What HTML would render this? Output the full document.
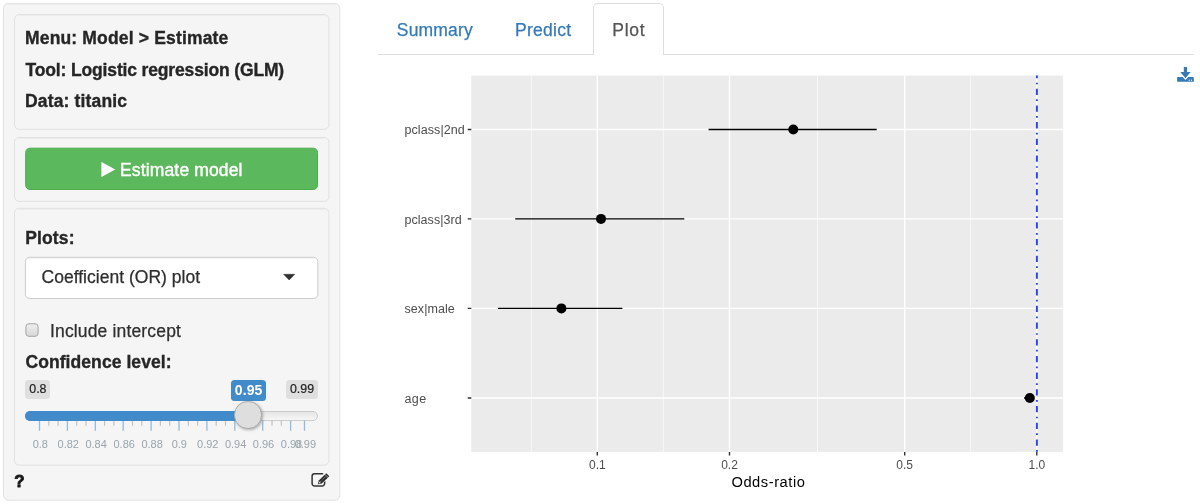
<!DOCTYPE html>
<html><head><meta charset="utf-8">
<style>
*{box-sizing:border-box}
html,body{margin:0;padding:0;background:#fff}
body{width:1200px;height:504px;overflow:hidden;position:relative;font-family:"Liberation Sans",sans-serif;color:#333;font-size:16px}
.abs{position:absolute}
.well{position:absolute;background:#f5f5f5;border:1px solid #e3e3e3;border-radius:5px;box-shadow:inset 0 1px 1px rgba(0,0,0,.05)}
svg{position:absolute;left:0;top:0}
svg text{font-family:"Liberation Sans",sans-serif}
.bold{font-weight:bold;fill:#262626;font-size:17.5px;stroke:#262626;stroke-width:.35px}
.reg{font-size:17.5px;fill:#2e2e2e;stroke:#2e2e2e;stroke-width:.25px}
.gl{font-size:11px;fill:#99a4ac;text-anchor:middle}
.ax{font-size:12px;fill:#4d4d4d}
</style></head><body>
<!-- sidebar wells -->
<svg width="360" height="504" viewBox="0 0 360 504">
<g fill="#f5f5f5" stroke="#e1e1e1" stroke-width="1">
<rect x="3.5" y="3.4" width="336.3" height="496.8" rx="5"/>
<rect x="14.5" y="14.5" width="314.4" height="114.8" rx="4.5"/>
<rect x="14.5" y="137.5" width="314.4" height="63.8" rx="4.5"/>
<rect x="14.5" y="208.3" width="314.4" height="256.8" rx="4.5"/>
</g>
<g stroke="#000" stroke-opacity="0.035" stroke-width="1" fill="none">
<path d="M8 4.6H335.5M19 15.6H324.5M19 138.6H324.5M19 209.4H324.5"/>
</g>
<!-- button -->
<rect x="25.7" y="148.2" width="291.8" height="41.3" rx="4.2" fill="#5cb85c" stroke="#4cae4c" stroke-width="1"/>
<!-- select -->
<rect x="25.4" y="257.3" width="292.4" height="41.2" rx="4.2" fill="#fff" stroke="#cbcbcb" stroke-width="1"/>
<path d="M29 258.4H314" stroke="#000" stroke-opacity="0.05" stroke-width="1"/>
<!-- checkbox -->
<defs><linearGradient id="cbg" x1="0" y1="0" x2="0" y2="1"><stop offset="0" stop-color="#efefef"/><stop offset="1" stop-color="#d8d8d8"/></linearGradient></defs>
<rect x="25.9" y="323.8" width="12.2" height="12.5" rx="3" fill="url(#cbg)" stroke="#a3a3a3" stroke-width="1"/>
</svg>
<!-- slider -->
<div class="abs" style="left:25px;top:380px;width:25px;height:18.7px;background:#dfdfdf;border-radius:3.5px"></div>
<div class="abs" style="left:286.2px;top:380px;width:31.6px;height:18.7px;background:#dfdfdf;border-radius:3.5px"></div>
<div class="abs" style="left:231.2px;top:380px;width:34.6px;height:20.7px;background:#428bca;border-radius:3.5px"></div>
<div class="abs" style="left:25px;top:410.7px;width:292.8px;height:10.1px;border:1px solid #ccc;border-radius:6px;background:linear-gradient(#ddd -50%,#fff 150%)"></div>
<div class="abs" style="left:25px;top:410.7px;width:223px;height:10.1px;border-top:1px solid #428bca;border-bottom:1px solid #428bca;border-radius:6px 0 0 6px;background:#428bca"></div>
<div class="abs" style="left:234.2px;top:401.2px;width:27.5px;height:27.5px;border-radius:50%;background:#dedede;border:1px solid #ababab;box-shadow:1px 1px 3px rgba(0,0,0,.3)"></div>

<!-- tabs -->
<div class="abs" style="left:378px;top:54px;width:816px;height:1px;background:#ddd"></div>
<div class="abs" style="left:593px;top:3px;width:71px;height:52px;background:#fff;border:1px solid #ddd;border-bottom:none;border-radius:5px 5px 0 0"></div>

<svg width="1200" height="504" viewBox="0 0 1200 504">
<!-- sidebar text -->
<text class="bold" x="25" y="44.2" textLength="203.3" lengthAdjust="spacing">Menu: Model &gt; Estimate</text>
<text class="bold" x="25.5" y="75.5" textLength="258.7" lengthAdjust="spacing">Tool: Logistic regression (GLM)</text>
<text class="bold" x="25" y="106.7" textLength="102" lengthAdjust="spacing">Data: titanic</text>
<path d="M101.4 162.1 L115.3 169.6 L101.4 177.1 Z" fill="#fff"/>
<text class="reg" x="120" y="175.9" textLength="122.5" lengthAdjust="spacing" style="fill:#fff;stroke:#fff;stroke-width:.4px">Estimate model</text>
<text class="bold" x="25.2" y="243.8" textLength="49.3" lengthAdjust="spacing">Plots:</text>
<text class="reg" x="41.5" y="283.3" textLength="158.6" lengthAdjust="spacing">Coefficient (OR) plot</text>
<path d="M283.6 274.3 L294.8 274.3 L289.2 280 Z" fill="#303030" stroke="#303030" stroke-width="0.5" stroke-linejoin="round"/>
<text class="reg" x="50" y="336.8" textLength="130.9" lengthAdjust="spacing">Include intercept</text>
<text class="bold" x="25.5" y="367.6" textLength="146" lengthAdjust="spacing">Confidence level:</text>

<!-- slider labels -->
<text x="37.9" y="393" font-size="12.4" fill="#222" stroke="#222" stroke-width=".2" text-anchor="middle">0.8</text>
<text x="302" y="393.1" font-size="12.4" fill="#222" stroke="#222" stroke-width=".2" text-anchor="middle">0.99</text>
<text x="248.6" y="395" font-size="14" font-weight="bold" fill="#fff" text-anchor="middle" textLength="27.5" lengthAdjust="spacing">0.95</text>
<!-- ticks -->
<g id="ticks"></g>
<g stroke="#428bca" stroke-opacity="0.55" stroke-width="1.3">
<path d="M39.5 420.8V430.7M67.4 420.8V430.7M95.3 420.8V430.7M123.2 420.8V430.7M151.1 420.8V430.7M179 420.8V430.7M206.9 420.8V430.7M234.8 420.8V430.7M262.7 420.8V430.7M290.6 420.8V430.7M304.5 420.8V430.7"/>
</g>
<g stroke="#999" stroke-opacity="0.6" stroke-width="1.1">
<path d="M48.8 420.8V425.7M58.1 420.8V425.7M76.7 420.8V425.7M86 420.8V425.7M104.6 420.8V425.7M113.9 420.8V425.7M132.5 420.8V425.7M141.8 420.8V425.7M160.4 420.8V425.7M169.7 420.8V425.7M188.3 420.8V425.7M197.6 420.8V425.7M216.2 420.8V425.7M225.5 420.8V425.7M272 420.8V425.7M281.3 420.8V425.7"/>
</g>
<g class="gl">
<text x="40.3" y="447.8">0.8</text><text x="68.3" y="447.8">0.82</text><text x="96.1" y="447.8">0.84</text><text x="124.2" y="447.8">0.86</text><text x="152.1" y="447.8">0.88</text><text x="179.3" y="447.8">0.9</text><text x="207.8" y="447.8">0.92</text><text x="235.6" y="447.8">0.94</text><text x="263.5" y="447.8">0.96</text><text x="291.5" y="447.8">0.98</text><text x="305.4" y="447.8">0.99</text>
</g>
<text x="14.3" y="486.6" font-size="16.8" font-weight="bold" fill="#1a1a1a" stroke="#1a1a1a" stroke-width=".9" stroke-linejoin="round">?</text>
<!-- edit icon -->
<g fill="none" stroke="#333" stroke-width="1.5" stroke-linecap="round">
<path d="M322.6 473.8H314.6a2.5 2.5 0 0 0 -2.5 2.5V483.5a2.5 2.5 0 0 0 2.5 2.5H322.1a2.5 2.5 0 0 0 2.5 -2.5V481.2"/>
</g>
<path d="M317.9 484.2 L318.8 480.6 L326.3 473.3 L329.3 476.3 L321.8 483.5 Z" fill="#2b2b2b" stroke="#f5f5f5" stroke-width="1.1" paint-order="stroke"/>
<path d="M325.2 474.6 L328 477.4" stroke="#f5f5f5" stroke-width=".6" fill="none"/>
<path d="M320.3 481.8 L326.2 476" stroke="#f5f5f5" stroke-width=".55" stroke-dasharray="1 .9" fill="none"/>
<path d="M318.8 483.5 L319.3 481.6 L320.8 483 Z" fill="#f5f5f5"/>

<!-- tabs text -->
<text class="reg" x="396.8" y="35.7" textLength="76" lengthAdjust="spacing" style="fill:#337ab7;stroke:#337ab7">Summary</text>
<text class="reg" x="515" y="35.7" textLength="56.2" lengthAdjust="spacing" style="fill:#337ab7;stroke:#337ab7">Predict</text>
<text class="reg" x="612.3" y="35.7" textLength="32.2" lengthAdjust="spacing" style="fill:#555;stroke:#555">Plot</text>

<!-- download icon -->
<g fill="#337ab7">
<path d="M1183.8 66.9H1187.1V72H1190.6L1185.45 78.2L1180.3 72H1183.8Z"/>
<path d="M1178 77.1H1182.6L1185.45 80L1188.3 77.1H1192.9a0.9 0.9 0 0 1 .9 .9V80.9a0.9 0.9 0 0 1 -.9 .9H1178a0.9 0.9 0 0 1 -.9 -.9V78a0.9 0.9 0 0 1 .9 -.9Z"/>
</g>
<rect x="1188.7" y="79.6" width="1" height="1.2" fill="#fff"/><rect x="1190.9" y="79.6" width="1" height="1.2" fill="#fff"/>

<!-- plot -->
<defs><clipPath id="pc"><rect x="471.3" y="75.5" width="591.8" height="376.4"/></clipPath></defs>
<rect x="471.3" y="75.5" width="591.8" height="376.4" fill="#ebebeb"/>
<g clip-path="url(#pc)">
<g stroke="#fff" stroke-width="0.71" stroke-opacity="0.85"><path d="M531.4 75V453M663.3 75V453M817.5 75V453M970.6 75V453"/></g>
<g stroke="#fff" stroke-width="1.42"><path d="M597.3 75V453M729.5 75V453M904.7 75V453M1036.8 75V453M471 129.5H1064M471 218.9H1064M471 308.4H1064M471 398H1064"/></g>
<g stroke="#000" stroke-width="1.42"><path d="M708.6 129.5H876.7M515.2 218.9H684.3M498.1 308.4H622.4M1024 398H1034"/></g>
<g fill="#000"><circle cx="793.3" cy="129.5" r="5"/><circle cx="601" cy="218.9" r="5"/><circle cx="561.4" cy="308.4" r="5"/><circle cx="1029.8" cy="398" r="5"/></g>
<path d="M1036.9 72V453" stroke="#2444ff" stroke-width="1.9" stroke-dasharray="6.3 4.35 1.7 4.35" fill="none"/>
</g>
<g stroke="#333" stroke-width="1.42"><path d="M467.7 129.5H471.3M467.7 218.9H471.3M467.7 308.4H471.3M467.7 398H471.3M597.3 451.9V455.5M729.5 451.9V455.5M904.7 451.9V455.5M1036.8 451.9V455.5"/></g>
<g class="ax">
<text x="404.4" y="134.2" textLength="60.4" font-size="12.5">pclass|2nd</text><text x="404.4" y="223.6" textLength="57.3" font-size="12.5">pclass|3rd</text><text x="404.5" y="313.1" textLength="50.3" font-size="12.5">sex|male</text><text x="404.5" y="402.6" textLength="21.6" font-size="12.5">age</text>
<text x="597.3" y="469" text-anchor="middle">0.1</text><text x="729.5" y="469" text-anchor="middle">0.2</text><text x="904.7" y="469" text-anchor="middle">0.5</text><text x="1036.8" y="469" text-anchor="middle">1.0</text>
</g>
<text x="731.4" y="487.3" font-size="14.7" fill="#000" textLength="73.5">Odds-ratio</text>
</svg>
</body></html>
